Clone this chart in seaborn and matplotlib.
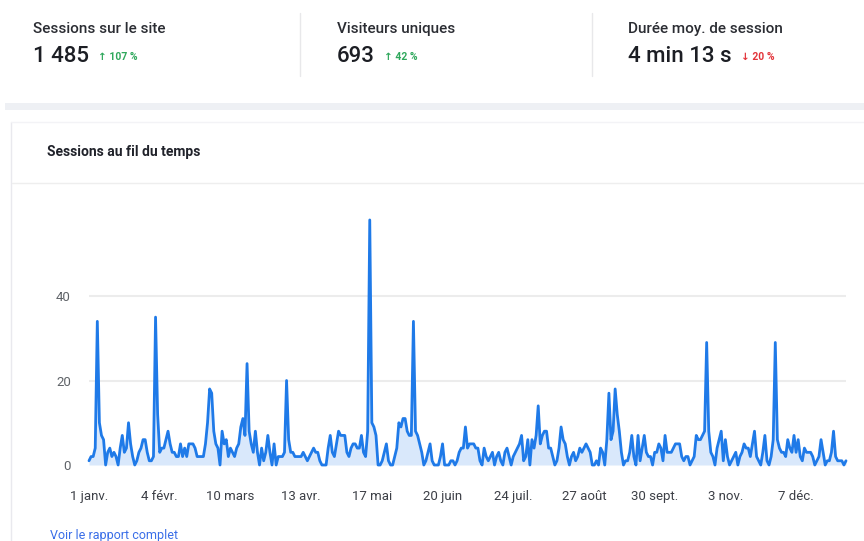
import pandas as pd
import matplotlib.pyplot as plt
import seaborn as sns
from matplotlib.lines import Line2D
from matplotlib.patches import Rectangle

# --- sessions par jour (2023), un tableau par mois ---
jan = [1, 2, 2, 4, 34, 10, 7, 6, 0, 3, 4, 2, 3, 2, 0, 4, 7, 3, 4, 10, 5, 2, 0, 1, 3, 4, 6, 6, 3, 1, 1]
feb = [2, 35, 12, 3, 4, 4, 6, 8, 5, 3, 3, 2, 2, 5, 2, 4, 2, 5, 5, 5, 4, 2, 2, 2, 2, 5, 10, 18]
mar = [17, 8, 5, 4, 0, 8, 5, 6, 2, 4, 3, 2, 4, 5, 9, 11, 7, 24, 8, 5, 3, 8, 3, 0, 4, 1, 3, 7, 3, 0, 5]
apr = [0, 2, 2, 2, 3, 20, 6, 3, 3, 2, 2, 2, 2, 3, 2, 1, 2, 3, 4, 3, 3, 1, 0, 0, 0, 4, 7, 3, 2, 5]
may = [8, 7, 7, 7, 3, 2, 4, 5, 5, 4, 4, 7, 3, 2, 8, 58, 10, 9, 7, 0, 0, 1, 3, 5, 1, 0, 0, 2, 4, 10, 9]
jun = [11, 11, 8, 7, 7, 34, 8, 7, 5, 3, 0, 1, 3, 5, 1, 0, 0, 0, 2, 5, 0, 0, 0, 1, 1, 0, 1, 3, 4, 4]
jul = [9, 4, 5, 5, 5, 4, 4, 1, 0, 4, 2, 1, 2, 3, 0, 2, 3, 1, 0, 3, 4, 2, 0, 2, 3, 4, 5, 7, 1, 2, 6]
aug = [0, 6, 4, 7, 14, 5, 7, 8, 8, 4, 4, 2, 0, 1, 4, 9, 6, 5, 2, 0, 2, 3, 1, 2, 4, 3, 4, 5, 4, 3, 0]
sep = [0, 1, 0, 4, 3, 0, 6, 17, 6, 8, 18, 12, 8, 3, 0, 1, 1, 3, 7, 2, 0, 7, 1, 4, 7, 3, 2, 2, 0, 3]
oct_ = [3, 5, 4, 1, 7, 3, 3, 3, 4, 5, 5, 5, 2, 1, 2, 2, 0, 1, 2, 7, 6, 6, 7, 8, 29, 8, 3, 2, 0, 4, 6]
nov = [8, 1, 6, 2, 0, 1, 2, 3, 0, 2, 3, 5, 4, 4, 2, 5, 8, 2, 1, 0, 3, 7, 1, 0, 2, 6, 29, 6, 4, 3]
dec = [3, 2, 6, 4, 3, 7, 3, 6, 2, 1, 4, 3, 3, 3, 2, 0, 1, 2, 6, 3, 0, 1, 1, 3, 8, 2, 1, 1, 1, 0, 1]

tick_labels = ['1 janv.', '4 févr.', '10 mars', '13 avr.', '17 mai', '20 juin',
               '24 juil.', '27 août', '30 sept.', '3 nov.', '7 déc.']

kpi_titles = ['Sessions sur le site', 'Visiteurs uniques', 'Durée moy. de session']
kpi_values = ['1 485', '693', '4 min 13 s']
kpi_deltas = ['↑ 107 %', '↑ 42 %', '↓ 20 %']
kpi_colors = ['#2fa85c', '#2fa85c', '#e3343a']

sessions = jan + feb + mar + apr + may + jun + jul + aug + sep + oct_ + nov + dec
dates = pd.date_range('2023-01-01', periods=len(sessions), freq='D')
df = pd.DataFrame({'date': dates, 'sessions': sessions})

sns.set_style('white')
plt.rcParams['font.family'] = ['Roboto', 'DejaVu Sans']

W, H = 864, 541
fig = plt.figure(figsize=(W / 100, H / 100), dpi=100)


def fx(px):
    return px / W


def fy(py):
    return 1 - py / H


def hline(x0, x1, y, color, lw=1.0):
    fig.add_artist(Line2D([fx(x0), fx(x1)], [fy(y), fy(y)], color=color, lw=lw,
                          transform=fig.transFigure))


def vline(x, y0, y1, color, lw=1.0):
    fig.add_artist(Line2D([fx(x), fx(x)], [fy(y0), fy(y1)], color=color, lw=lw,
                          transform=fig.transFigure))


# --- bandeau KPI ---
kpi_x = [33, 337, 628]
renderer = fig.canvas.get_renderer()
for x, title, value, delta, col in zip(kpi_x, kpi_titles, kpi_values, kpi_deltas, kpi_colors):
    fig.text(fx(x), fy(29), title, fontsize=11, fontweight='medium', color='#2b2d33',
             va='center')
    t = fig.text(fx(x), fy(57), value, fontsize=16, fontweight='medium', color='#1c1e24',
                 va='center')
    bb = t.get_window_extent(renderer)
    fig.text((bb.x1 + 9) / W, fy(57), delta, fontsize=7.5, fontweight='bold',
             color=col, va='center')

vline(300, 13, 76, '#e8e8ea')
vline(592, 13, 76, '#e8e8ea')

fig.add_artist(Rectangle((fx(5), fy(110)), fx(864) - fx(5), fy(103) - fy(110),
                         color='#eef0f4', transform=fig.transFigure, lw=0))

# --- carte du graphique ---
vline(11, 122, 541, '#e9e9ee')
hline(11, 864, 122, '#f3f3f6')
hline(12, 864, 183, '#eeeeee')
fig.text(fx(47), fy(152), 'Sessions au fil du temps', fontsize=10, fontweight='bold',
         color='#20222a', va='center')
fig.text(fx(50), fy(535), 'Voir le rapport complet', fontsize=9, color='#3a6ee8',
         va='center')

ax = fig.add_axes([fx(89), fy(465), fx(846) - fx(89), fy(211.5) - fy(465)])
ax.patch.set_alpha(0)
for y in [20, 40]:
    ax.axhline(y, color='#ececec', lw=1.5, zorder=0)
ax.fill_between(df['date'], df['sessions'], color='#d9e8fb', lw=0, zorder=1)
sns.lineplot(data=df, x='date', y='sessions', ax=ax, color='#1f7ae8', linewidth=2,
             clip_on=False, zorder=2)

ax.set_xlim(dates[0], dates[-1])
ax.set_ylim(0, 60)
ax.set_yticks([0, 20, 40])
ax.set_xticks(dates[::34])
ax.set_xticklabels(tick_labels)
ax.set_xlabel('')
ax.set_ylabel('')
ax.tick_params(axis='y', length=0, labelsize=9.5, labelcolor='#5f6368', pad=13)
ax.tick_params(axis='x', length=0, labelsize=9.5, labelcolor='#3c3f46', pad=18)
sns.despine(ax=ax, left=True, bottom=True)

plt.savefig('out.png', dpi=100)
plt.close()
